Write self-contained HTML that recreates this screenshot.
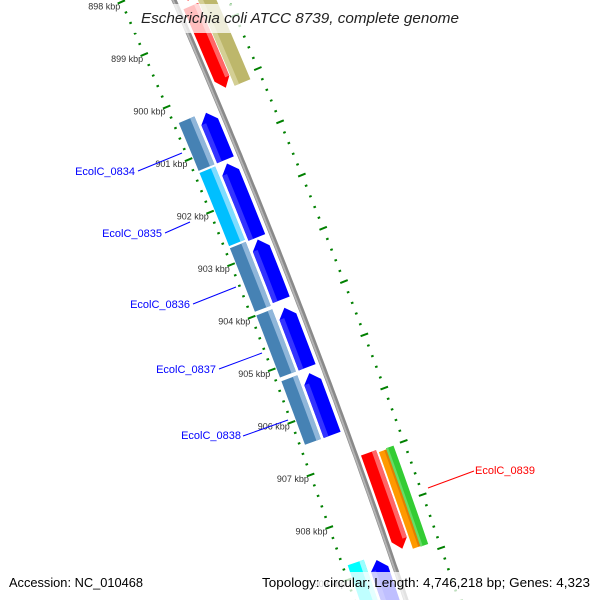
<!DOCTYPE html>
<html><head><meta charset="utf-8"><style>
html,body{margin:0;padding:0;background:#fff;width:600px;height:600px;overflow:hidden}
svg{display:block;overflow:hidden}
text{font-family:"Liberation Sans","DejaVu Sans",sans-serif}
</style></head><body>
<svg id="map" width="600" height="600" viewBox="0 0 600 600" xmlns="http://www.w3.org/2000/svg">
<g id="rulers"></g>
<g id="backbone"></g>
<g id="features"></g>
<g id="labels">
  <line x1="138" y1="171" x2="182" y2="153" stroke="#0000ff" stroke-width="1"/>
  <text x="135" y="175" text-anchor="end" font-size="11" fill="#0000ff">EcolC_0834</text>
  <line x1="165" y1="233" x2="190" y2="222" stroke="#0000ff" stroke-width="1"/>
  <text x="162" y="237" text-anchor="end" font-size="11" fill="#0000ff">EcolC_0835</text>
  <line x1="193" y1="304" x2="236" y2="287" stroke="#0000ff" stroke-width="1"/>
  <text x="190" y="308" text-anchor="end" font-size="11" fill="#0000ff">EcolC_0836</text>
  <line x1="219" y1="369" x2="262" y2="353" stroke="#0000ff" stroke-width="1"/>
  <text x="216" y="373" text-anchor="end" font-size="11" fill="#0000ff">EcolC_0837</text>
  <line x1="243" y1="436" x2="288" y2="420" stroke="#0000ff" stroke-width="1"/>
  <text x="241" y="439" text-anchor="end" font-size="11" fill="#0000ff">EcolC_0838</text>
  <line x1="428" y1="488" x2="474" y2="471" stroke="#ff0000" stroke-width="1"/>
  <text x="475" y="474" font-size="11" fill="#ff0000">EcolC_0839</text>
</g>
<g>
  <rect x="134" y="4" width="332" height="29" fill="#fff" fill-opacity="0.75"/>
  <text x="141" y="23" font-size="14.5" font-style="italic" fill="#222" textLength="318" lengthAdjust="spacingAndGlyphs">Escherichia coli ATCC 8739, complete genome</text>
</g>
<g>
  <rect x="4" y="572" width="145" height="28" fill="#fff" fill-opacity="0.75"/>
  <rect x="256" y="572" width="340" height="28" fill="#fff" fill-opacity="0.75"/>
  <text x="9" y="587" font-size="13" fill="#000" textLength="134" lengthAdjust="spacingAndGlyphs">Accession: NC_010468</text>
  <text x="590" y="587" font-size="13" fill="#000" text-anchor="end" textLength="328" lengthAdjust="spacingAndGlyphs">Topology: circular; Length: 4,746,218 bp; Genes: 4,323</text>
</g>
</svg>
<script>
// feature data (kbp)
const featStart = [897.0, 898.55, 897.0, 906.98, 907.03, 907.01, 900.36, 901.32, 902.76, 904.05, 905.29, 908.83, 900.34, 901.29, 902.72, 904.00, 905.25, 908.75];
const featEnd   = [898.45, 900.09, 900.12, 908.79, 908.85, 908.86, 901.25, 902.72, 903.90, 905.18, 906.46, 910.5, 901.25, 902.68, 903.93, 905.18, 906.46, 910.5];
const featColor = ["#ff0000","#ff0000","#bdb76b","#ff0000","#ff9900","#33cc33","#0000ff","#0000ff","#0000ff","#0000ff","#0000ff","#0000ff","#4682b4","#00bfff","#4682b4","#4682b4","#4682b4","#00ffff"];
const featTrack = ["r1","r1","r2","r1","r2a","r2b","l1","l1","l1","l1","l1","l1","l2","l2","l2","l2","l2","l2"];
const featArrow = ["end","end","none","end","none","none","start","start","start","start","start","start","none","none","none","none","none","none"];
const tickStartKbp = 897;
const tickEndKbp = 910;
const tickStep = 0.2;
const tickLabelKbp = [898,899,900,901,902,903,904,905,906,907,908,909];

const NS = "http://www.w3.org/2000/svg";
const trackR = {r1:[5,21], r2:[22,39], r2a:[23,31], r2b:[31,39], l1:[-24,-6], l2:[-44,-27]};
const stripe = {"#ff0000":["#ff6666","right"],"#4682b4":["#8fb6da","right"],"#00bfff":["#7fdcff","right"],"#00ffff":["#99ffff","right"],"#bdb76b":["#d4cf94","left"],"#ff9900":["#e08000","right"],"#33cc33":["#66dd66","left"],"#0000ff":["#3333ff","left"]};
function bx(t){return 174+0.4367*t-0.0000833*t*t;}
function pos(t,r){const s=0.4367-2*0.0000833*t;const n=Math.sqrt(1+s*s);return [bx(t)+r/n, t - r*s/n];}
function tOf(k){return 88+(k-900)*52.9;}
function pts(arr){return arr.map(p=>p[0].toFixed(1)+","+p[1].toFixed(1)).join(" ");}
function band(a,b,r1,r2,arrow){
  const h=9, out=[], back=[];
  let a2=a,b2=b;
  if(arrow==="start")a2=a+h; if(arrow==="end")b2=b-h;
  const n=Math.max(2,Math.ceil((b2-a2)/20));
  for(let i=0;i<=n;i++){const t=a2+(b2-a2)*i/n;out.push(pos(t,r1));back.push(pos(t,r2));}
  const res=[];
  if(arrow==="start")res.push(pos(a,(r1+r2)/2));
  res.push(...out);
  if(arrow==="end")res.push(pos(b,(r1+r2)/2));
  res.push(...back.reverse());
  return res;
}
const bb=document.getElementById("backbone");
const bpts=[],bpts2=[];for(let t=-40;t<=640;t+=5){bpts.push(pos(t,0));bpts2.push(pos(t,-1));}
const bl=document.createElementNS(NS,"polyline");


bl.setAttribute("points",pts(bpts));bl.setAttribute("fill","none");bl.setAttribute("stroke","#8a8a8a");bl.setAttribute("stroke-width","5");bb.appendChild(bl);
const bl2=document.createElementNS(NS,"polyline");


bl2.setAttribute("points",pts(bpts2));bl2.setAttribute("fill","none");bl2.setAttribute("stroke","#b5b5b5");bl2.setAttribute("stroke-width","1.8");bb.appendChild(bl2);
const fg=document.getElementById("features");
for(let i=0;i<featStart.length;i++){
  const a=tOf(featStart[i]),b=tOf(featEnd[i]);const [r1,r2]=trackR[featTrack[i]];
  const p=document.createElementNS(NS,"polygon");
  
  
  p.setAttribute("points",pts(band(a,b,r1,r2,featArrow[i])));p.setAttribute("fill",featColor[i]);fg.appendChild(p);
  const st=stripe[featColor[i]];
  if(st){const w=(r2-r1)*0.28;const sr1=st[1]==="right"?r2-w:r1,sr2=st[1]==="right"?r2:r1+w;
    const q=document.createElementNS(NS,"polygon");
    
    
    q.setAttribute("points",pts(band(a+(featArrow[i]==="start"?9:0),b-(featArrow[i]==="end"?9:0),sr1,sr2,"none")));q.setAttribute("fill",st[0]);fg.appendChild(q);}
}
const rg=document.getElementById("rulers");
const nT=Math.round((tickEndKbp-tickStartKbp)/tickStep);
for(let i=0;i<=nT;i++){
  const k=tickStartKbp+i*tickStep;const t=tOf(k);const major=Math.abs(k-Math.round(k))<1e-6;
  [-49,50].forEach(rc=>{
    const L=major?4:1.3;const p1=pos(t,rc-L),p2=pos(t,rc+L);
    const ln=document.createElementNS(NS,"line");
    
    
    ln.setAttribute("x1",p1[0]);ln.setAttribute("y1",p1[1]);ln.setAttribute("x2",p2[0]);ln.setAttribute("y2",p2[1]);
    ln.setAttribute("stroke","#008000");ln.setAttribute("stroke-width","2");rg.appendChild(ln);
  });
}
tickLabelKbp.forEach(k=>{
  const p=pos(tOf(k)+6,-53);
  const tx=document.createElementNS(NS,"text");
  
  
  tx.setAttribute("x",p[0]);tx.setAttribute("y",p[1]);tx.setAttribute("text-anchor","end");tx.setAttribute("font-size","9");tx.setAttribute("fill","#333");
  tx.textContent=k+" kbp";rg.appendChild(tx);
});
</script>
</body></html>
